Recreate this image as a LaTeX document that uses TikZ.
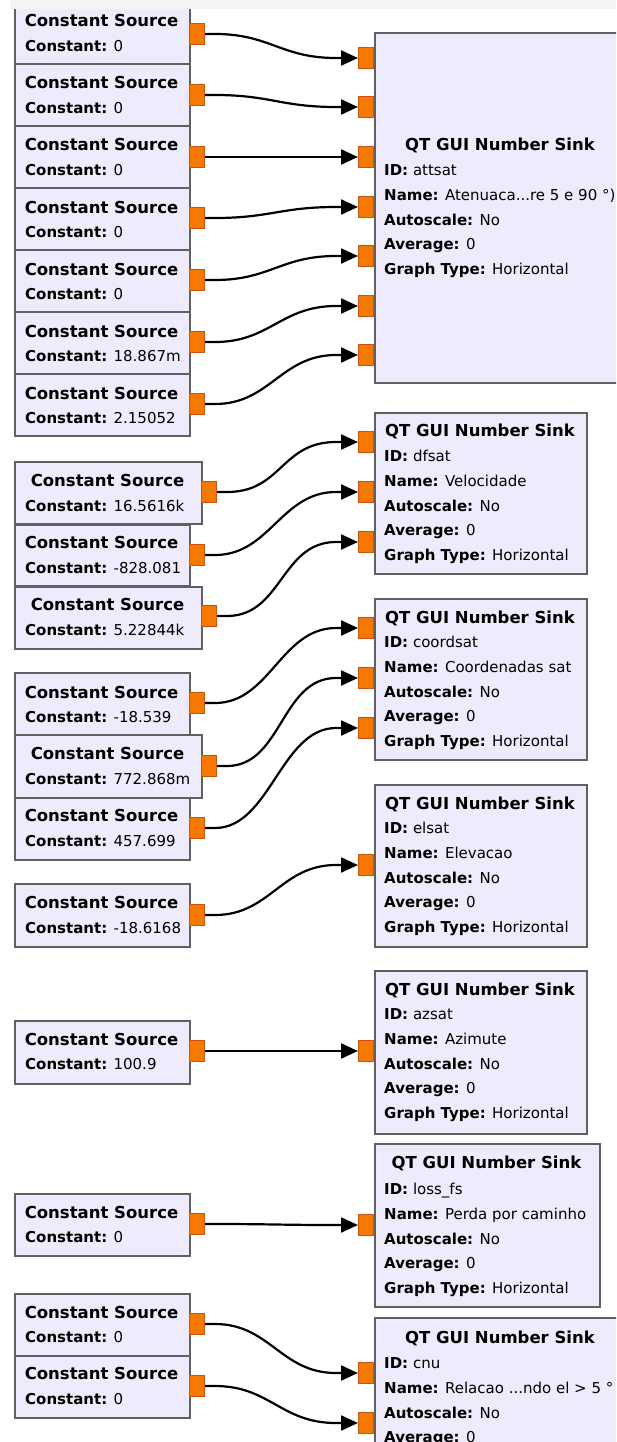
\documentclass[tikz,border=0pt]{standalone}
\usepackage{fontspec}
\setmainfont{DejaVu Sans}
\usetikzlibrary{arrows.meta,calc}
\definecolor{blkfill}{RGB}{238,235,252}
\definecolor{blkdraw}{RGB}{96,96,96}
\definecolor{portfill}{RGB}{245,121,0}
\definecolor{portdraw}{RGB}{200,85,20}
\definecolor{topstrip}{RGB}{244,244,244}
\tikzset{
 blk/.style={draw=blkdraw, fill=blkfill, line width=2.2pt, inner sep=0pt, anchor=north west},
 portst/.style={draw=portdraw, fill=portfill, line width=1pt, minimum width=15pt, minimum height=21pt, inner sep=0pt},
 ttl/.style={font=\bfseries\fontsize{16.5}{18}\selectfont, anchor=base, inner sep=0pt},
 prm/.style={font=\fontsize{15}{17}\selectfont, anchor=base west, inner sep=0pt},
 wire/.style={line width=2.2pt, -{Triangle[length=17pt,width=15pt]}},
}
\newcommand\csrc[9]{%
 \node[blk, minimum width={#4-#2}, minimum height={#5-#3}] (#1) at (#2,#3) {};
 \node[ttl] (#1t) at ({(#2+#4)/2},{#6+6}) {Constant Source};
 \node[prm] (#1v) at ({#2+11},{#7+5.5}) {\textbf{Constant:} #9};
 \node[portst, anchor=west] (#1p) at (#4,#8) {};
}
\newcommand\qsink[8]{%
 \node[blk, minimum width={#3-374}, minimum height={#4-#2}] (#1) at (374,#2) {};
 \node[ttl] (#1t) at ({(374+#3)/2},{#5+6}) {QT GUI Number Sink};
 \node[prm] (#1a) at (384,{#6+5.5}) {\textbf{ID:} #7};
 \node[prm] (#1b) at (384,{#6+24.8+5.5}) {\textbf{Name:} #8};
 \node[prm] (#1c) at (384,{#6+49.6+5.5}) {\textbf{Autoscale:} No};
 \node[prm] (#1d) at (384,{#6+74.4+5.5}) {\textbf{Average:} 0};
 \node[prm] (#1e) at (384,{#6+99.2+5.5}) {\textbf{Graph Type:} Horizontal};
}
\newcommand\qport[2]{\node[portst, anchor=east] (#1) at (374,#2) {};}
\newcommand\conn[2]{\draw[wire] (#1.east) -- ++(10,0) .. controls +(55,0) and +(-55,0) .. ($(#2.west)+(-22,0)$) -- (#2.west);}
\begin{document}
\begin{tikzpicture}[x=1pt,y=-1pt]
\clip (0,0) rectangle (616,1442);
\fill[white] (0,0) rectangle (616,1442);
% sources
\csrc{sa}{14}{1}{189}{63}{21}{46}{34}{0}
\csrc{sb}{14}{63}{189}{125}{83}{108}{95}{0}
\csrc{sc}{14}{125}{189}{187}{145}{170}{157}{0}
\csrc{sd}{14}{187}{189}{249}{207}{232}{218}{0}
\csrc{se}{14}{249}{189}{311}{269}{294}{280}{0}
\csrc{sf}{14}{311}{189}{373}{331}{356}{342}{18.867m}
\csrc{sg}{14}{373}{189}{435}{393}{418}{404}{2.15052}
\csrc{sh}{14}{461}{201}{523}{480}{506}{492}{16.5616k}
\csrc{si}{14}{524}{189}{585}{542}{568}{555}{-828.081}
\csrc{sj}{14}{586}{201}{648}{604}{630}{616}{5.22844k}
\csrc{sk}{14}{672}{189}{734}{692}{717}{703}{-18.539}
\csrc{sl}{14}{734}{201}{797}{753}{779}{766}{772.868m}
\csrc{sm}{14}{797}{189}{859}{815}{841}{828}{457.699}
\csrc{sn}{14}{883}{189}{946}{902}{928}{915}{-18.6168}
\csrc{so}{14}{1020}{189}{1083}{1039}{1064}{1051}{100.9}
\csrc{sp}{14}{1193}{189}{1255}{1212}{1237}{1224}{0}
\csrc{sq}{14}{1293}{189}{1355}{1312}{1337}{1324}{0}
\csrc{sr}{14}{1355}{189}{1417}{1373}{1399}{1386}{0}
% sinks
\qsink{ka}{32}{626}{382}{145}{170}{attsat}{Atenuaca...re 5 e 90 °)}
\qsink{kb}{412}{586}{573}{430}{456}{dfsat}{Velocidade}
\qsink{kc}{598}{586}{759}{617}{642}{coordsat}{Coordenadas sat}
\qsink{kd}{784}{586}{946}{803}{828}{elsat}{Elevacao}
\qsink{ke}{970}{586}{1133}{989}{1014}{azsat}{Azimute}
\qsink{kf}{1143}{599}{1306}{1162}{1189}{loss\_fs}{Perda por caminho}
\qsink{kg}{1317}{626}{1480}{1337}{1363}{cnu}{Relacao ...ndo el > 5 °}
% sink ports
\qport{ka1}{58}\qport{ka2}{107}\qport{ka3}{157}\qport{ka4}{207}
\qport{ka5}{256}\qport{ka6}{306}\qport{ka7}{355}
\qport{kb1}{442}\qport{kb2}{492}\qport{kb3}{542}
\qport{kc1}{628}\qport{kc2}{678}\qport{kc3}{728}
\qport{kd1}{865}
\qport{ke1}{1051}
\qport{kf1}{1225}
\qport{kg1}{1373}\qport{kg2}{1423}
% wires
\conn{sap}{ka1}\conn{sbp}{ka2}\conn{scp}{ka3}\conn{sdp}{ka4}
\conn{sep}{ka5}\conn{sfp}{ka6}\conn{sgp}{ka7}
\conn{shp}{kb1}\conn{sip}{kb2}\conn{sjp}{kb3}
\conn{skp}{kc1}\conn{slp}{kc2}\conn{smp}{kc3}
\conn{snp}{kd1}
\conn{sop}{ke1}
\conn{spp}{kf1}
\conn{sqp}{kg1}\conn{srp}{kg2}
% top strip
\fill[topstrip] (10,0) rectangle (616,9);
\end{tikzpicture}
\end{document}
